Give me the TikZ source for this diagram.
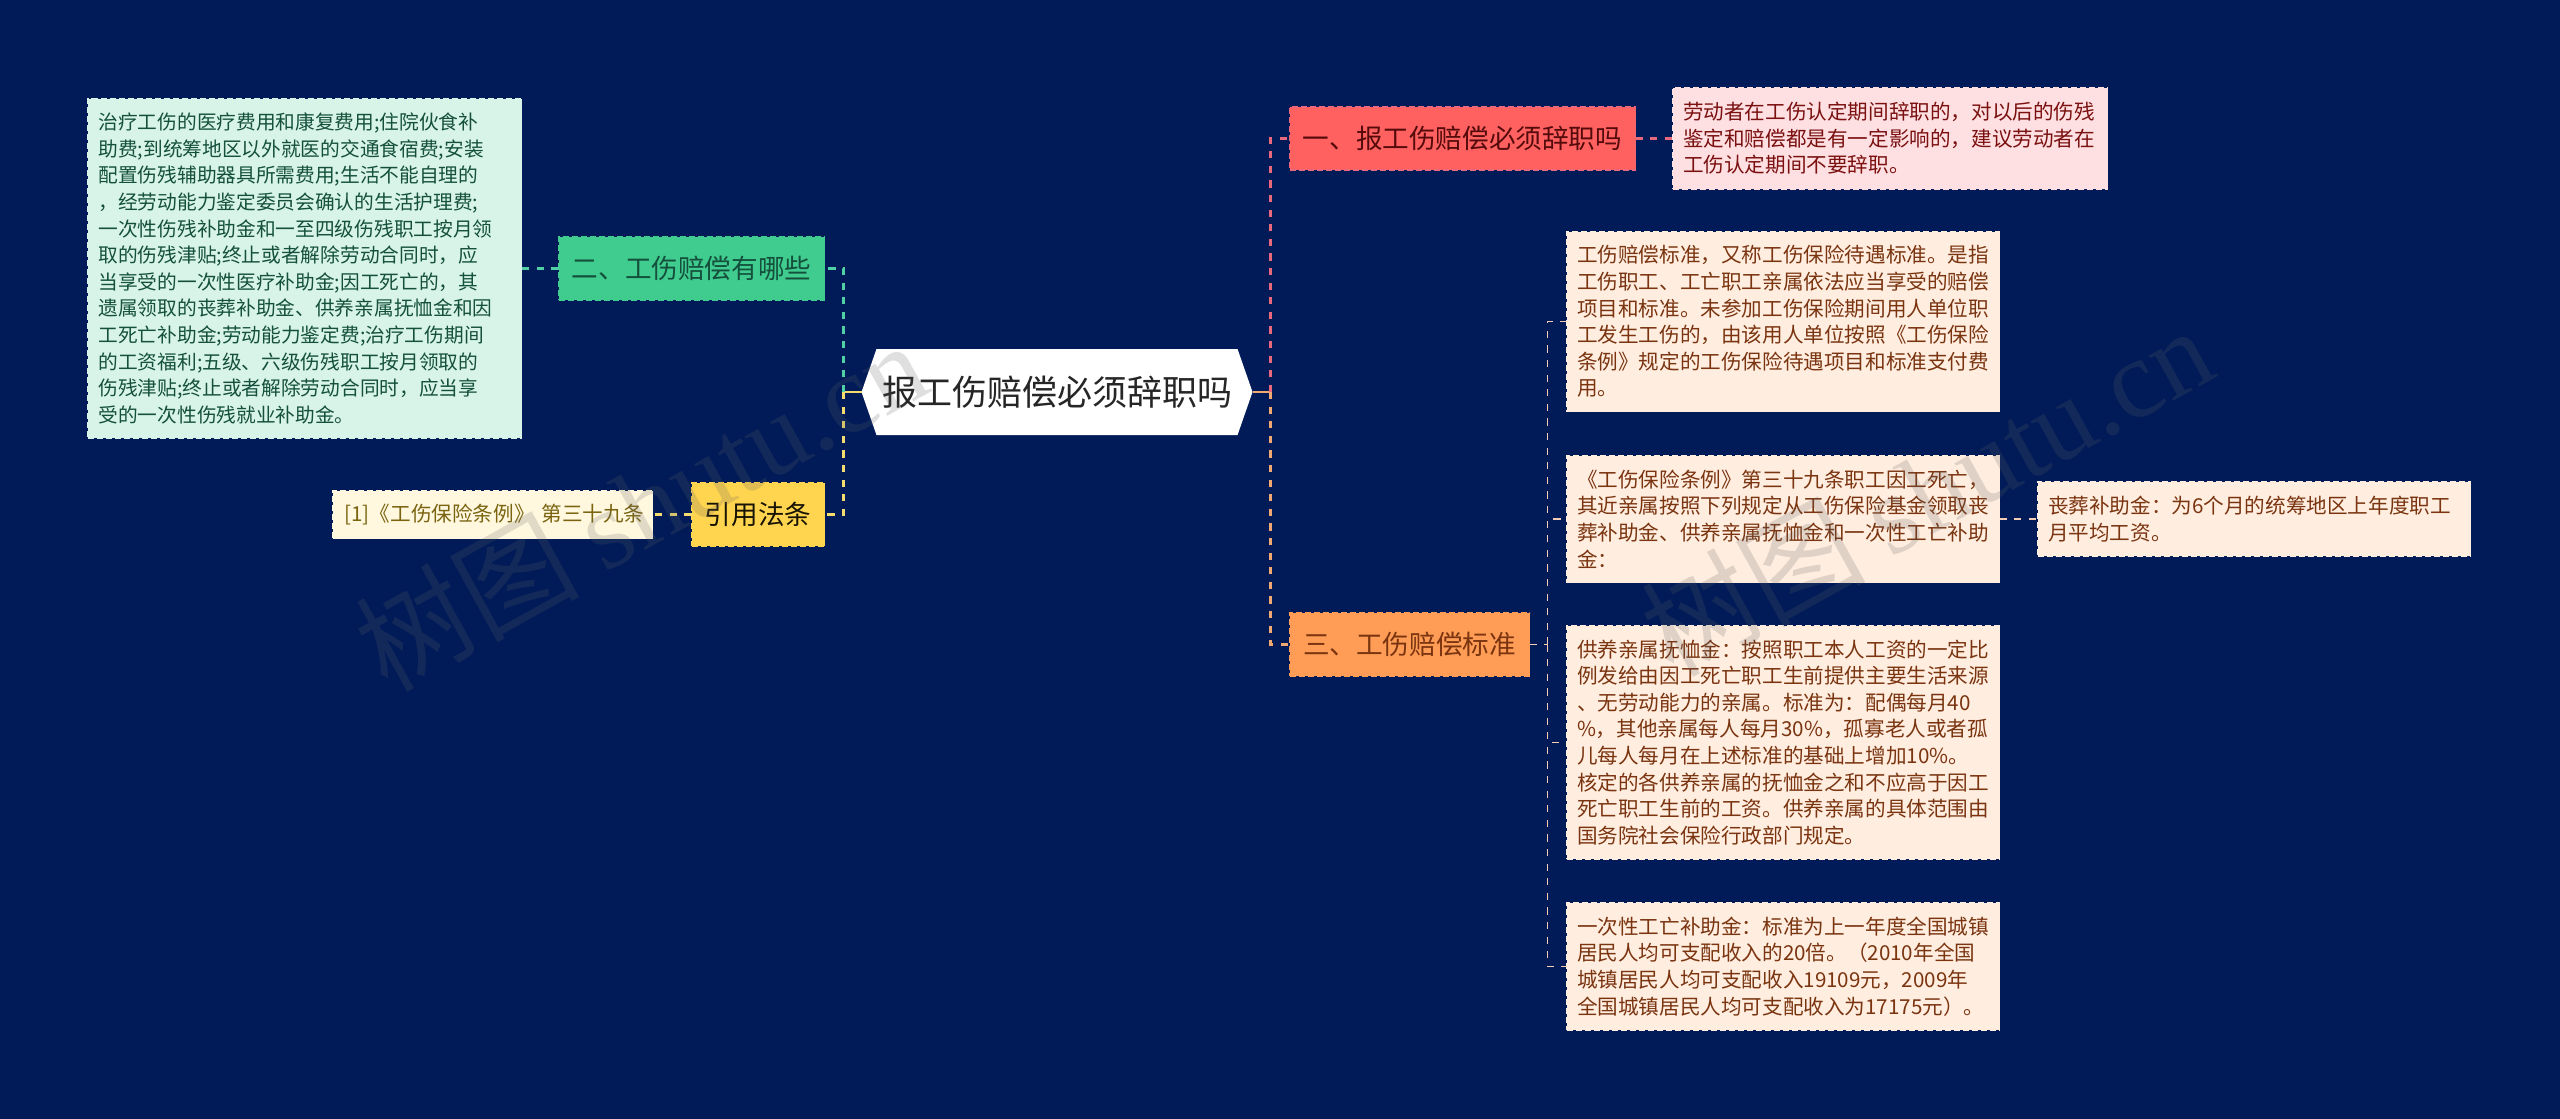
\documentclass[tikz,border=0pt]{standalone}
\usepackage{fontspec}
\setmainfont{Noto Sans CJK SC}
\newfontfamily\markfont{Liberation Serif}
\usetikzlibrary{positioning, shapes.symbols}
\definecolor{navy}{HTML}{001B58}
\definecolor{redtag}{HTML}{FF6060}
\definecolor{redleaf}{HTML}{FFE0E2}
\definecolor{redink}{HTML}{7A1010}
\definecolor{redlink}{HTML}{E8697B}
\definecolor{greentag}{HTML}{40CC8E}
\definecolor{greenleaf}{HTML}{D8F4E8}
\definecolor{greenink}{HTML}{14503C}
\definecolor{greenlink}{HTML}{4FD0A5}
\definecolor{yellowtag}{HTML}{FFD44F}
\definecolor{yellowleaf}{HTML}{FFF8DF}
\definecolor{yellowink}{HTML}{7A6410}
\definecolor{yellowlink}{HTML}{F5DC6E}
\definecolor{orangetag}{HTML}{FF9C55}
\definecolor{orangeleaf}{HTML}{FFEEE0}
\definecolor{orangeink}{HTML}{7A3410}
\definecolor{orangelink}{HTML}{F2A873}
\definecolor{peachlink}{HTML}{F4CDB4}
\tikzset{
  main node/.style={signal, signal to=east and west, signal pointer angle=141.6, fill=white, text=black!85,
    minimum width=195.5pt, minimum height=43pt, inner sep=0pt, outer sep=0pt, font=\fontsize{17.5}{20}\selectfont},
  tag node/.style={rectangle, draw, dashed, dash pattern=on 3pt off 1.5pt, line width=.6pt, minimum height=31.5pt,
    inner sep=0pt, outer sep=0pt, font=\fontsize{13.3}{16}\selectfont},
  leaf node/.style={rectangle, draw, dashed, dash pattern=on 3pt off 1.5pt, line width=.6pt, align=left,
    text width=206pt, inner xsep=5.25pt, inner ysep=0pt, outer sep=0pt, font=\fontsize{10.3}{13.3}\selectfont},
  link/.style={dash pattern=on 3.6pt off 3.7pt, line width=1.2pt},
  thin link/.style={dash pattern=on 3.6pt off 3.7pt, line width=.7pt},
  elbow/.style={to path={|- (\tikztotarget)}},
  mark node/.style={rotate=29, text=black!62, opacity=.2, inner sep=0pt, font=\fontsize{56}{56}\selectfont}
}
\begin{document}
\begin{tikzpicture}[x=.5pt, y=-.5pt]
    % Background fixes the size of the page
    \path[use as bounding box, fill=navy] (0,0) rectangle (2560,1119);

    % Define each node
    \node[main node] (root) at (1057,392) {报工伤赔偿必须辞职吗};

    % Right side
    \node[tag node, fill=redtag, draw=redlink, text=redink!70!black, minimum width=173pt] (tagA) [above right = 111pt and 18.5pt of root.east] {一、报工伤赔偿必须辞职吗};
    \node[leaf node, fill=redleaf, draw=redleaf, text=redink, text width=207pt, minimum height=50.5pt] (leafA) [right = 18.5pt of tagA] {劳动者在工伤认定期间辞职的，对以后的伤残\\鉴定和赔偿都是有一定影响的，建议劳动者在\\工伤认定期间不要辞职。};
    \node[tag node, fill=orangetag, draw=orangetag, text=orangeink, minimum width=120pt] (tagC) [below right = 110.5pt and 18.5pt of root.east] {三、工伤赔偿标准};
    \node[leaf node, fill=orangeleaf, draw=orangeleaf, text=orangeink, minimum height=90pt] (leafC) [above right = 116.5pt and 18.5pt of tagC.east] {工伤赔偿标准，又称工伤保险待遇标准。是指\\工伤职工、工亡职工亲属依法应当享受的赔偿\\项目和标准。未参加工伤保险期间用人单位职\\工发生工伤的，由该用人单位按照《工伤保险\\条例》规定的工伤保险待遇项目和标准支付费\\用。};
    \node[leaf node, fill=orangeleaf, draw=orangeleaf, text=orangeink, minimum height=63.5pt] (leafD) [below = 22pt of leafC] {《工伤保险条例》第三十九条职工因工死亡，\\其近亲属按照下列规定从工伤保险基金领取丧\\葬补助金、供养亲属抚恤金和一次性工亡补助\\金：};
    \node[leaf node, fill=orangeleaf, draw=orangeleaf, text=orangeink, minimum height=116.75pt] (leafE) [below = 21.5pt of leafD] {供养亲属抚恤金：按照职工本人工资的一定比\\例发给由因工死亡职工生前提供主要生活来源\\、无劳动能力的亲属。标准为：配偶每月40\\\%，其他亲属每人每月30\%，孤寡老人或者孤\\儿每人每月在上述标准的基础上增加10\%。\\核定的各供养亲属的抚恤金之和不应高于因工\\死亡职工生前的工资。供养亲属的具体范围由\\国务院社会保险行政部门规定。};
    \node[leaf node, fill=orangeleaf, draw=orangeleaf, text=orangeink, minimum height=63.5pt] (leafF) [below = 22pt of leafE] {一次性工亡补助金：标准为上一年度全国城镇\\居民人均可支配收入的20倍。（2010年全国\\城镇居民人均可支配收入19109元，2009年\\全国城镇居民人均可支配收入为17175元）。};
    \node[leaf node, fill=orangeleaf, draw=orangeleaf, text=orangeink, minimum height=37.25pt] (leafG) [right = 19pt of leafD] {丧葬补助金：为6个月的统筹地区上年度职工\\月平均工资。};

    % Left side
    \node[tag node, fill=greentag, draw=greentag, text=greenink, minimum width=133pt] (tagB) [above left = 46pt and 18.5pt of root.west] {二、工伤赔偿有哪些};
    \node[leaf node, fill=greenleaf, draw=greenleaf, text=greenink, inner xsep=5.5pt, minimum height=169.5pt, font=\fontsize{9.85}{13.3}\selectfont] (leafB) [left = 18.5pt of tagB] {治疗工伤的医疗费用和康复费用;住院伙食补\\助费;到统筹地区以外就医的交通食宿费;安装\\配置伤残辅助器具所需费用;生活不能自理的\\，经劳动能力鉴定委员会确认的生活护理费;\\一次性伤残补助金和一至四级伤残职工按月领\\取的伤残津贴;终止或者解除劳动合同时，应\\当享受的一次性医疗补助金;因工死亡的，其\\遗属领取的丧葬补助金、供养亲属抚恤金和因\\工死亡补助金;劳动能力鉴定费;治疗工伤期间\\的工资福利;五级、六级伤残职工按月领取的\\伤残津贴;终止或者解除劳动合同时，应当享\\受的一次性伤残就业补助金。};
    \node[tag node, fill=yellowtag, draw=yellowtag, text=black!80!yellowink, minimum width=66.5pt] (tagD) [below left = 45.5pt and 18.5pt of root.west] {引用法条};
    \node[leaf node, fill=yellowleaf, draw=yellowleaf, text=yellowink, text width=152pt, inner xsep=4pt, minimum height=24pt] (leafH) [left = 19.5pt of tagD] {\hspace*{2pt}[1]《工伤保险条例》~第三十九条};

    % Joints on the trunks
    \coordinate[right = 9pt of root.east] (joinR);
    \coordinate[left = 9pt of root.west] (joinL);
    \coordinate[right = 9pt of tagC.east] (joinC);

    % Draw edges between nodes
    \draw[orangelink, line width=1.4pt] (root.east) -- (joinR);
    \draw[yellowlink, line width=1.4pt] (root.west) -- (joinL);
    \path[draw=redlink, link]
    (joinR) edge[elbow] (tagA.west)
    (tagA) edge (leafA);
    \path[draw=orangelink, link]
    (joinR) edge[elbow] (tagC.west);
    \path[draw=greenlink, link]
    (joinL) edge[elbow] (tagB.east)
    (tagB) edge (leafB);
    \path[draw=yellowlink, link]
    (joinL) edge[elbow] (tagD.east)
    (tagD) edge (leafH);
    \path[draw=peachlink, thin link]
    (tagC) edge (joinC)
    (joinC) edge[elbow] (leafC.west)
    (joinC) edge[elbow] (leafD.west)
    (joinC) edge[elbow] (leafE.west)
    (joinC) edge[elbow] (leafF.west)
    (leafD) edge (leafG);

    % Watermarks lie over everything
    \node[mark node] (markL) at (640,505) {树图 {\markfont shutu.cn}};
    \node[mark node] (markR) at (1926,490) {树图 {\markfont shutu.cn}};
\end{tikzpicture}
\end{document}
